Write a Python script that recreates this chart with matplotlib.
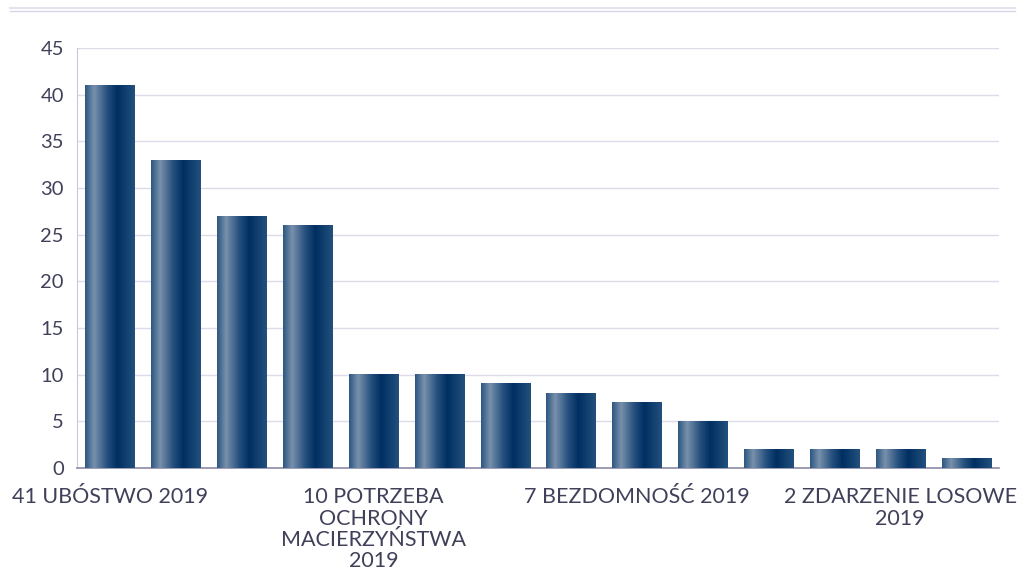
import numpy as np
import matplotlib
matplotlib.use("Agg")
import matplotlib.pyplot as plt
from matplotlib.colors import LinearSegmentedColormap

categories = [
    "41 UBÓSTWO 2019",
    "33 BEZROBOCIE 2019",
    "27 NIEPEŁNOSPRAWNOŚĆ 2019",
    "26 DŁUGOTRWAŁA CHOROBA 2019",
    "10 POTRZEBA\nOCHRONY\nMACIERZYŃSTWA\n2019",
    "10 BEZRADNOŚĆ 2019",
    "9 ALKOHOLIZM 2019",
    "8 PRZEMOC W RODZINIE 2019",
    "7 BEZDOMNOŚĆ 2019",
    "5 SIEROCTWO 2019",
    "2 NARKOMANIA 2019",
    "2 TRUDNOŚCI PO ZWOLNIENIU Z ZAKŁADU KARNEGO 2019",
    "2 ZDARZENIE LOSOWE\n2019",
    "1 KLĘSKA ŻYWIOŁOWA 2019",
]
values = [41, 33, 27, 26, 10, 10, 9, 8, 7, 5, 2, 2, 2, 1]
shown_labels = [0, 4, 8, 12]

plt.rcParams["font.family"] = ["Lato", "DejaVu Sans"]
text_color = "#40405a"

fig = plt.figure(figsize=(10.32, 5.71), dpi=100)
ax = fig.add_axes([77 / 1032, 1 - 468 / 571, 922 / 1032, 420 / 571])

x = np.arange(len(values))
width = 0.745
bars = ax.bar(x, values, width=width, color="none", zorder=3)

# gradient across each bar
grad = LinearSegmentedColormap.from_list(
    "bar", [(0.0, "#2d5782"), (0.18, "#7890ab"), (0.45, "#244f7d"),
            (0.65, "#002f62"), (1.0, "#23507c")])
img = np.linspace(0, 1, 200).reshape(1, -1)
for b in bars:
    x0, y0 = b.get_x(), b.get_y()
    ax.imshow(img, cmap=grad, aspect="auto", zorder=3,
              extent=(x0, x0 + b.get_width(), y0, y0 + b.get_height()))

ax.set_xlim(-0.5, len(values) - 0.5)
ax.set_ylim(0, 45)
ax.set_yticks(range(0, 46, 5))
ax.yaxis.grid(True, color="#dddbe9", linewidth=1, zorder=0)
ax.set_axisbelow(True)

ax.set_xticks([x[i] for i in shown_labels])
ax.set_xticklabels([categories[i] for i in shown_labels], ha="center",
                   multialignment="center", linespacing=1.08)

for s in ["top", "right"]:
    ax.spines[s].set_visible(False)
ax.spines["left"].set_color("#c9c7dc")
ax.spines["bottom"].set_color("#8e8aa8")
ax.spines["bottom"].set_linewidth(1.2)
ax.tick_params(axis="both", length=0, colors=text_color)
ax.tick_params(axis="y", pad=9.5, labelsize=14.5)
ax.tick_params(axis="x", pad=14, labelsize=15.5)

# title strip at the top (mostly cut off in the original)
fig.text(0.47, 1.0 + 3.5 / 571, "Powody przyznania pomocy", ha="center",
         va="baseline", fontsize=15, color="#222222")
fig.add_artist(plt.Line2D([10 / 1032, 1015 / 1032], [1 - 8 / 571] * 2,
                          color="#e4e2ee", linewidth=1.5))
fig.add_artist(plt.Line2D([10 / 1032, 1015 / 1032], [1 - 10.5 / 571] * 2,
                          color="#d8d6e6", linewidth=1.0))

fig.savefig("out.png", dpi=100)
